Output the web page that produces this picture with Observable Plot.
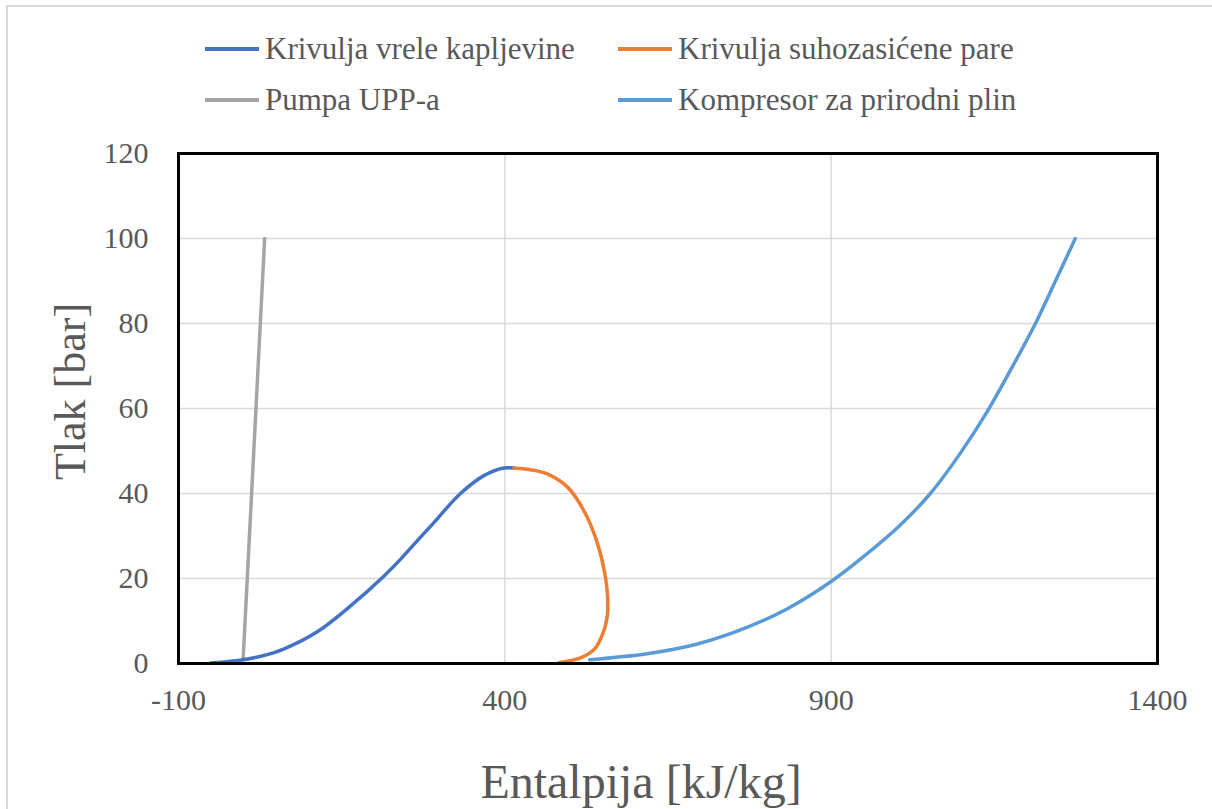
<!DOCTYPE html>
<html><head><meta charset="utf-8">
<script src="https://cdn.jsdelivr.net/npm/d3@7"></script>
<script src="https://cdn.jsdelivr.net/npm/@observablehq/plot@0.6"></script>
<style>
html,body{margin:0;padding:0;background:#fff;}
#wrap{position:relative;width:1212px;height:809px;overflow:hidden;font-family:'Liberation Serif','DejaVu Serif',serif;color:#595959;background:#fff;}
#border{position:absolute;left:6px;top:5px;width:1300px;height:900px;border-left:2px solid #d9d9d9;border-top:2px solid #d9d9d9;pointer-events:none;}
#legend{position:relative;height:130px;}
.item{position:absolute;display:flex;align-items:center;height:30px;font-family:'Liberation Serif','DejaVu Serif',serif;font-size:31px;line-height:30px;white-space:nowrap;}
.sw{display:inline-block;width:54px;height:4px;margin-right:6px;}
#chart svg{display:block;}
</style></head>
<body>
<div id="wrap"><div id="border"></div><div id="legend"></div><div id="chart"></div></div>
<script>
const FONT = "'Liberation Serif', 'DejaVu Serif', serif";

// Series names and colours
const seriesNames = ["Krivulja vrele kapljevine", "Krivulja suhozasićene pare", "Pumpa UPP-a", "Kompresor za prirodni plin"];
const seriesColors = ["#4472C4", "#ED7D31", "#A5A5A5", "#5B9BD5"];

// Saturated liquid curve (h [kJ/kg], p [bar])
const liquidH = [-51, -1, 26, 61, 112, 164, 215, 240, 266, 291, 332, 368, 398, 414];
const liquidP = [0.1, 0.9, 1.7, 3.4, 7.4, 13.6, 20.6, 24.5, 28.9, 33.1, 40.0, 44.2, 46.0, 46.0];

// Saturated vapour curve
const vaporH = [414, 439, 465, 496, 521, 542, 554.5, 557.5, 557.5, 555, 551, 538, 517, 483];
const vaporP = [46.0, 45.6, 44.6, 41.5, 36.0, 28.2, 20.0, 15.5, 12.0, 9.5, 7.4, 3.5, 1.4, 0.2];

// LNG pump
const pumpH = [-1, 32];
const pumpP = [0.9, 100];

// Natural gas compressor
const compH = [530, 618, 695, 771, 833, 900, 950, 1006, 1052, 1098, 1140, 1180, 1213, 1244, 1274];
const compP = [0.9, 2.3, 4.6, 8.5, 12.9, 19.3, 25.2, 32.6, 40.0, 49.5, 59.5, 70.5, 80.0, 90.1, 100];

// Axis ticks
const xTicks = [-100, 400, 900, 1400];
const yTicks = [0, 20, 40, 60, 80, 100, 120];
const xGrid = [400, 900];
const yGrid = [20, 40, 60, 80, 100];

const toRows = (hs, ps, s) => hs.map((h, i) => ({h, p: ps[i], s}));
const liquid = toRows(liquidH, liquidP, seriesNames[0]);
const vapor = toRows(vaporH, vaporP, seriesNames[1]);
const pump = toRows(pumpH, pumpP, seriesNames[2]);
const comp = toRows(compH, compP, seriesNames[3]);

// Legend (HTML, above the SVG)
const legend = document.getElementById("legend");
const legendPos = [[205, 34], [618, 34], [205, 85], [618, 85]];
seriesNames.forEach((name, i) => {
  const it = document.createElement("div");
  it.className = "item";
  it.style.left = legendPos[i][0] + "px";
  it.style.top = legendPos[i][1] + "px";
  const sw = document.createElement("span");
  sw.className = "sw";
  sw.style.background = seriesColors[i];
  const tx = document.createElement("span");
  tx.textContent = name;
  it.appendChild(sw); it.appendChild(tx);
  legend.appendChild(it);
});

const lineOpts = (i, curve) => ({x: "h", y: "p", stroke: seriesColors[i], strokeWidth: 3.5, curve});

const chart = Plot.plot({
  width: 1212,
  height: 679,
  marginTop: 23,
  marginBottom: 146,
  marginLeft: 178,
  marginRight: 55,
  style: {fontFamily: FONT, fontSize: "30px", color: "#595959", background: "transparent"},
  x: {domain: [-100, 1400]},
  y: {domain: [0, 120]},
  marks: [
    Plot.gridX(xGrid, {stroke: "#d9d9d9", strokeOpacity: 1, strokeWidth: 1.5}),
    Plot.gridY(yGrid, {stroke: "#d9d9d9", strokeOpacity: 1, strokeWidth: 1.5}),
    Plot.axisX({ticks: xTicks, tickSize: 0, tickPadding: 25, tickFormat: d => String(d), label: null, fontSize: 30, fontFamily: FONT}),
    Plot.axisY({ticks: yTicks, tickSize: 0, tickPadding: 30, tickFormat: d => String(d), label: null, fontSize: 30, fontFamily: FONT}),
    Plot.line(pump, lineOpts(2, "linear")),
    Plot.line(liquid, lineOpts(0, "catmull-rom")),
    Plot.line(vapor, lineOpts(1, "catmull-rom")),
    Plot.line(comp, lineOpts(3, "catmull-rom")),
    Plot.frame({stroke: "black", strokeWidth: 3}),
    Plot.text(["Entalpija [kJ/kg]"], {text: d => d, frameAnchor: "bottom", textAnchor: "middle", lineAnchor: "middle", dx: -27, dy: 119, fontSize: 48, fontFamily: FONT, fill: "#595959"}),
    Plot.text(["Tlak [bar]"], {text: d => d, frameAnchor: "left", textAnchor: "middle", lineAnchor: "middle", rotate: -90, dx: -108, dy: -17, fontSize: 44, fontFamily: FONT, fill: "#595959"})
  ]
});
document.getElementById("chart").appendChild(chart);
</script>
</body></html>
